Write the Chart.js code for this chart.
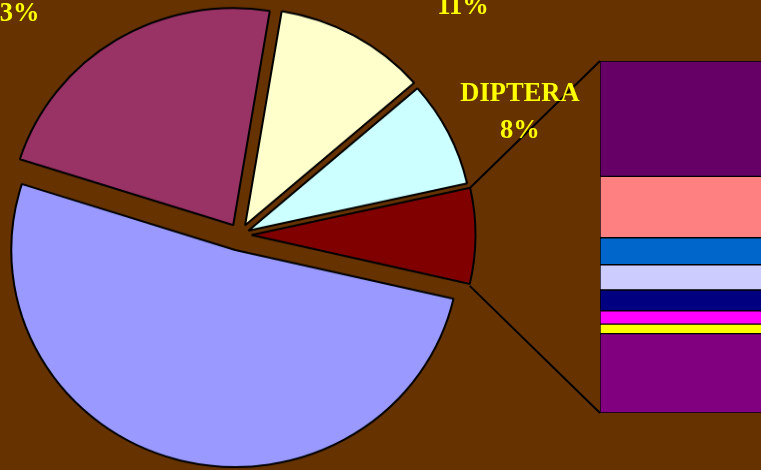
<!DOCTYPE html>
<html>
<head>
<meta charset="utf-8">
<script src="https://cdn.jsdelivr.net/npm/chart.js@4.4.1/dist/chart.umd.min.js"></script>
<style>
  html, body { margin: 0; padding: 0; width: 761px; height: 470px; overflow: hidden; background: #663300; }
  canvas { position: absolute; left: 0; top: 0; }
</style>
</head>
<body>
<canvas id="pie" width="761" height="485" style="width:761px;height:470px"></canvas>
<canvas id="bar" width="900" height="470"></canvas>
<script>
// pie slices, clockwise, the last one is the "other" wedge split into the bar
const pieLabels = ['', '', '', 'DIPTERA', 'Other'];
const pieValues = [51.3, 22.7, 11.0, 7.9, 7.1];
const pieColors = ['#9999FF', '#993366', '#FFFFCC', '#CCFFFF', '#800000'];

// parts of the "other" wedge, stacked bottom to top
const barValues = [1.67, 0.20, 0.28, 0.44, 0.53, 0.57, 1.29, 2.43];
const barColors = ['#800080', '#FFFF00', '#FF00FF', '#000080', '#CCCCFF', '#0066CC', '#FF8080', '#660066'];

// the original picture is a little flatter than wide
const SQUASH = 470 / 485;
// how far each slice is pulled out
const explodeBy = [16, 12, 11.5, 10, 12];

const explode = {
    id: 'explode',
    afterDatasetUpdate(chart, args) {
        args.meta.data.forEach(function (arc, i) {
            const mid = (arc.startAngle + arc.endAngle) / 2;
            arc.x += Math.cos(mid) * explodeBy[i];
            arc.y += Math.sin(mid) * explodeBy[i];
        });
    }
};

var pieChart = new Chart(document.getElementById('pie'), {
    type: 'pie',
    data: {
        labels: pieLabels,
        datasets: [{
            data: pieValues,
            backgroundColor: pieColors,
            borderColor: '#000000',
            borderWidth: 2,
            radius: 224
        }]
    },
    options: {
        responsive: false,
        animation: false,
        rotation: 103,
        layout: { padding: { left: 0, right: 282, top: 0, bottom: 0 } },
        plugins: { legend: { display: false }, tooltip: { enabled: false } }
    },
    plugins: [explode]
});

// label spots relative to the pie centre on screen (percent line baseline)
const labelSpots = { 1: [-226.5, -214], 2: [223.5, -221.5], 3: [280.5, -97.5] };

const overlay = {
    id: 'overlay',
    afterDraw(chart) {
        const ctx = chart.ctx;
        const pa = pieChart.chartArea;
        const cx = (pa.left + pa.right) / 2;
        const cy = (pa.top + pa.bottom) / 2 * SQUASH;
        const total = pieValues.reduce(function (a, b) { return a + b; }, 0);
        const other = pieChart.getDatasetMeta(0).data[pieValues.length - 1];
        const corner = function (a) {
            return [other.x + Math.cos(a) * other.outerRadius, (other.y + Math.sin(a) * other.outerRadius) * SQUASH];
        };
        const top = corner(other.startAngle);
        const bottom = corner(other.endAngle);
        const area = chart.chartArea;

        ctx.save();
        ctx.strokeStyle = '#000000';
        ctx.lineWidth = 2;
        ctx.beginPath();
        ctx.moveTo(top[0], top[1]);
        ctx.lineTo(area.left, area.top);
        ctx.moveTo(bottom[0], bottom[1] + 2);
        ctx.lineTo(area.left, area.bottom);
        ctx.stroke();

        // a touch taller than the plain font, like the original
        ctx.font = 'bold 26px "Liberation Serif", "Times New Roman", serif';
        ctx.fillStyle = '#FFFF00';
        ctx.textAlign = 'center';
        ctx.textBaseline = 'alphabetic';
        Object.keys(labelSpots).forEach(function (k) {
            const i = +k;
            const x = cx + labelSpots[k][0];
            const y = cy + labelSpots[k][1];
            ctx.save();
            ctx.translate(x, y);
            ctx.scale(1.02, 1.07);
            ctx.fillText(Math.round(pieValues[i] / total * 100) + '%', 0, 0);
            if (pieLabels[i]) ctx.fillText(pieLabels[i], 0, -34);
            ctx.restore();
        });
        ctx.restore();
    }
};

var barChart = new Chart(document.getElementById('bar'), {
    type: 'bar',
    data: {
        labels: [''],
        datasets: barValues.map(function (v, i) {
            return {
                data: [v],
                backgroundColor: barColors[i],
                borderColor: '#000000',
                borderWidth: 1,
                borderSkipped: false,
                barPercentage: 1,
                categoryPercentage: 1
            };
        })
    },
    options: {
        responsive: false,
        animation: false,
        layout: { padding: { left: 600, top: 61, right: 40, bottom: 57 } },
        scales: {
            x: { stacked: true, display: false },
            y: { stacked: true, display: false, min: 0, max: barValues.reduce(function (a, b) { return a + b; }, 0) }
        },
        plugins: { legend: { display: false }, tooltip: { enabled: false } }
    },
    plugins: [overlay]
});
</script>
</body>
</html>
